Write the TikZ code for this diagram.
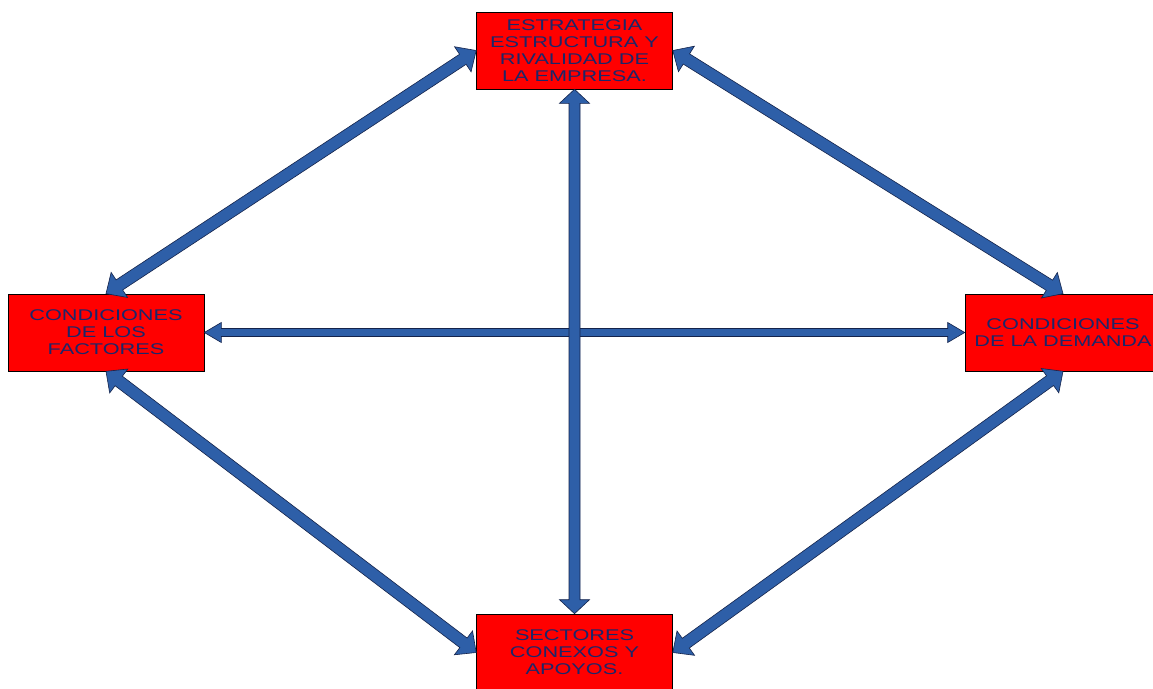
\documentclass[tikz,border=0pt]{standalone}
\usepackage{fontspec}
\usetikzlibrary{calc}
\newfontfamily\boxfont[FakeStretch=1.4]{Liberation Sans}

\definecolor{boxred}{RGB}{255,0,0}
\definecolor{boxtext}{RGB}{28,38,105}
\definecolor{arrowfill}{RGB}{46,95,168}
\definecolor{arrowline}{RGB}{20,35,75}

\tikzset{
  factor/.style={draw=black, line width=0.6pt, fill=boxred, minimum width=196pt,
    minimum height=77pt, inner sep=0pt, align=center, text=boxtext,
    font=\boxfont\fontsize{15.5}{17}\selectfont},
  blockarrow/.style={fill=arrowfill, draw=arrowline, line width=0.6pt, line join=miter}
}

% Double-headed block arrow from #1 to #2:
% #3 = half shaft width, #4 = half head width, #5 = head length
\newcommand\twoheads[5]{%
  \coordinate (p) at (#1);
  \coordinate (q) at (#2);
  \coordinate (m1) at ($(p)!#5!(q)$);
  \coordinate (m2) at ($(q)!#5!(p)$);
  \filldraw[blockarrow] (p)
    -- ($(m1)!#4!90:(q)$) -- ($(m1)!#3!90:(q)$)
    -- ($(m2)!#3!-90:(p)$) -- ($(m2)!#4!-90:(p)$)
    -- (q)
    -- ($(m2)!#4!90:(p)$) -- ($(m2)!#3!90:(p)$)
    -- ($(m1)!#3!-90:(q)$) -- ($(m1)!#4!-90:(q)$)
    -- cycle;}

\begin{document}
\begin{tikzpicture}[x=1pt, y=-1pt]
  \clip (0,0) rectangle (1153,688);
  \fill[white] (0,0) rectangle (1153,688);

  % the four determinants
  \node[factor] (top) at (574.5,50.5) {ESTRATEGIA\\ESTRUCTURA Y\\RIVALIDAD DE\\LA EMPRESA.};
  \node[factor] (left) at (106,332.5) {CONDICIONES\\DE LOS\\FACTORES};
  \node[factor] (right) at (1063,332.5) {CONDICIONES\\DE LA DEMANDA};
  \node[factor] (bot) at (574.5,652.5) {SECTORES\\CONEXOS Y\\APOYOS.};

  % connections between them
  \twoheads{top.west}{left.north}{6pt}{15pt}{16pt}
  \twoheads{top.east}{right.north}{6pt}{15pt}{16pt}
  \twoheads{left.south}{bot.west}{6pt}{15pt}{16pt}
  \twoheads{bot.east}{right.south}{6pt}{15pt}{16pt}
  \twoheads{left.east}{right.west}{4pt}{10pt}{17pt}
  \twoheads{top.south}{bot.north}{5.5pt}{15pt}{14pt}
\end{tikzpicture}
\end{document}
